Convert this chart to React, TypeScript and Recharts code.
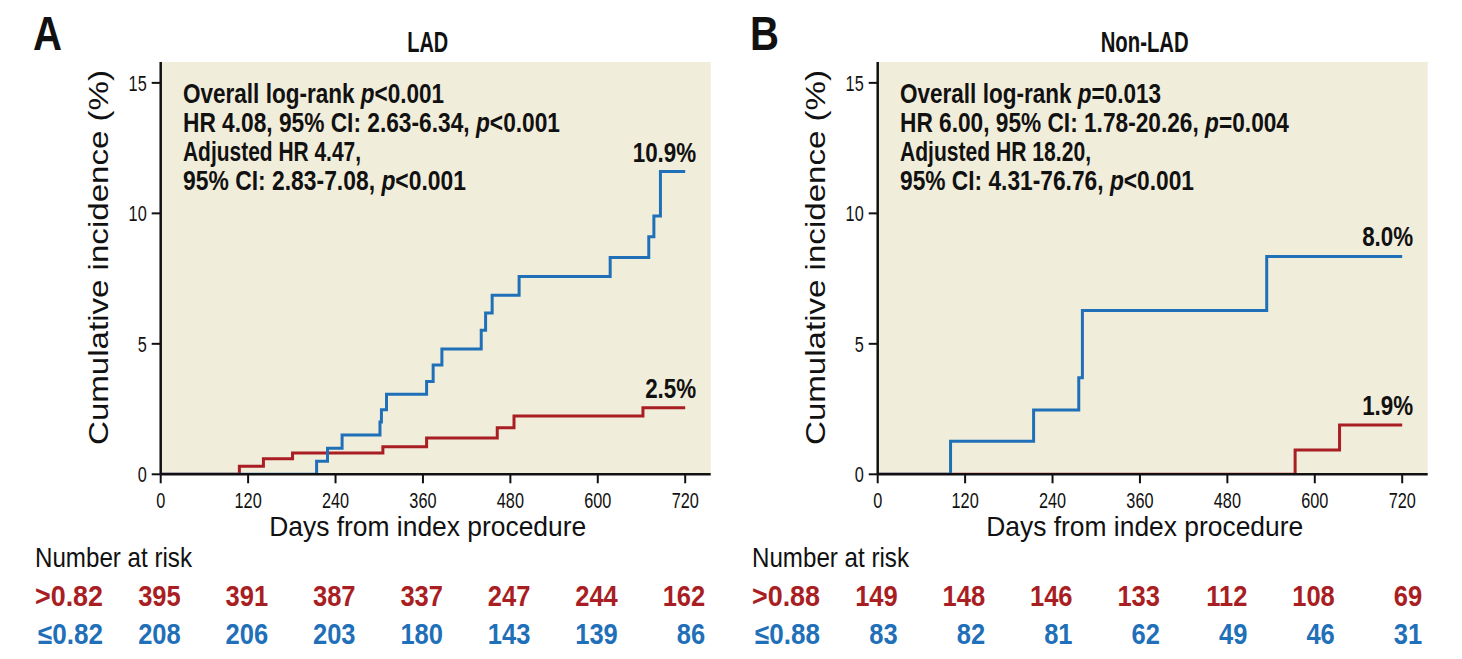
import React, { useLayoutEffect, useRef, useState } from 'react';
import { LineChart, Line, XAxis, YAxis, CartesianGrid } from 'recharts';

// days from index procedure / cumulative incidence (%)
const ladHighDays = [0, 108, 141, 181, 305, 365, 462, 485, 662, 720];
const ladHighVals = [0, 0.31, 0.6, 0.82, 1.06, 1.39, 1.78, 2.23, 2.55, 2.55];
const ladLowDays = [0, 214, 229, 249, 301, 303, 310, 365, 374, 386, 440, 446, 455, 492, 617, 670, 677, 686, 720];
const ladLowVals = [0, 0.5, 1.0, 1.51, 2.0, 2.47, 3.07, 3.56, 4.19, 4.8, 5.52, 6.18, 6.86, 7.58, 8.31, 9.1, 9.9, 11.6, 11.6];

const nonLadHighDays = [0, 573, 634, 720];
const nonLadHighVals = [0, 0.93, 1.89, 1.89];
const nonLadLowDays = [0, 100, 214, 276, 281, 534, 720];
const nonLadLowVals = [0, 1.27, 2.46, 3.7, 6.28, 8.35, 8.35];

const xTicks = [0, 120, 240, 360, 480, 600, 720];
const yTicks = [0, 5, 10, 15];

const ladRiskHigh = [395, 391, 387, 337, 247, 244, 162];
const ladRiskLow = [208, 206, 203, 180, 143, 139, 86];
const nonLadRiskHigh = [149, 148, 146, 133, 112, 108, 69];
const nonLadRiskLow = [83, 82, 81, 62, 49, 46, 31];

const RED = '#a81e23';
const BLUE = '#1f70b8';
const BG = '#f1eddb';
const INK = '#111';
const FONT = "'Liberation Sans', Arial, sans-serif";

const PW = 731;
const PH = 659;
const PL = 160.7;
const PT = 62;
const PWIDTH = 550;
const PB = 474.3;
const XMAX = 755;
const YMAX = 15.8;

const xs = (d: number) => PL + (d / XMAX) * PWIDTH;
const ys = (v: number) => PB - (v / YMAX) * (PB - PT);

const toRows = (days: number[], vals: number[]) => days.map((d, i) => ({ day: d, v: vals[i] }));

// horizontally squeezed text (the figure uses a condensed face)
const Cond = ({ x, y, sx, anchor = 'start', children, ...rest }: any) => (
    <g transform={`translate(${x} ${y}) scale(${sx} 1)`}>
        <text x={0} y={0} textAnchor={anchor} {...rest}>{children}</text>
    </g>
);

type Part = { t: string; it?: boolean };

// one line of the stats box, italic p as its own text, squeezed to a given width
const StatLine = ({ x, y, parts, width }: { x: number; y: number; parts: Part[]; width: number }) => {
    const refs = useRef<(SVGTextElement | null)[]>([]);
    const [lay, setLay] = useState<{ offs: number[]; sx: number }>({ offs: parts.map(() => 0), sx: 0.85 });
    useLayoutEffect(() => {
        let acc = 0;
        const offs: number[] = [];
        parts.forEach((_, i) => {
            offs.push(acc);
            acc += refs.current[i]?.getComputedTextLength() ?? 0;
        });
        setLay({ offs, sx: acc > 0 ? width / acc : 0.85 });
    }, []);
    return (
        <g transform={`translate(${x} ${y}) scale(${lay.sx} 1)`}>
            {parts.map((p, i) => (
                <text
                    key={i}
                    ref={(el) => { refs.current[i] = el; }}
                    x={lay.offs[i]}
                    y={0}
                    fontSize={27}
                    fontWeight="bold"
                    fill={INK}
                    fontStyle={p.it ? 'italic' : 'normal'}
                    style={{ whiteSpace: 'pre' }}
                >
                    {p.t}
                </text>
            ))}
        </g>
    );
};

const XTick = (props: any) => {
    const { x, payload } = props;
    return <Cond x={x} y={PB + 34} sx={0.74} anchor="middle" fontFamily={FONT} fontSize={22} fill={INK}>{payload.value}</Cond>;
};

const YTick = (props: any) => {
    const { x, y, payload } = props;
    return <Cond x={x - 3} y={y + 8} sx={0.74} anchor="end" fontFamily={FONT} fontSize={22} fill={INK}>{payload.value}</Cond>;
};

interface PanelProps {
    left: number;
    letter: string;
    title: string;
    titleWidth: number;
    high: { day: number; v: number }[];
    low: { day: number; v: number }[];
    highLabel: string;
    lowLabel: string;
    stats: Part[][];
    statWidths: number[];
    cut: string;
    riskHigh: number[];
    riskLow: number[];
}

const Panel: React.FC<PanelProps> = ({ left, letter, title, titleWidth, high, low, highLabel, lowLabel, stats, statWidths, cut, riskHigh, riskLow }) => {
    const lastHigh = high[high.length - 1];
    const lastLow = low[low.length - 1];
    return (
        <div style={{ position: 'absolute', left, top: 0, width: PW, height: PH }}>
            <LineChart
                width={PW}
                height={PH}
                margin={{ top: PT, right: PW - PL - PWIDTH, bottom: PH - PB - 60, left: PL - 60 }}
            >
                <CartesianGrid fill={BG} stroke="none" horizontal={false} vertical={false} />
                <XAxis
                    type="number"
                    dataKey="day"
                    domain={[0, XMAX]}
                    ticks={xTicks}
                    allowDataOverflow
                    height={60}
                    tickSize={9}
                    axisLine={{ stroke: INK, strokeWidth: 2.5 }}
                    tickLine={{ stroke: INK, strokeWidth: 2 }}
                    tick={<XTick />}
                />
                <YAxis
                    type="number"
                    domain={[0, YMAX]}
                    ticks={yTicks}
                    allowDataOverflow
                    width={60}
                    tickSize={9}
                    axisLine={{ stroke: INK, strokeWidth: 2.5 }}
                    tickLine={{ stroke: INK, strokeWidth: 2 }}
                    tick={<YTick />}
                />
                <Line data={high} dataKey="v" type="stepAfter" stroke={RED} strokeWidth={3} dot={false} isAnimationActive={false} />
                <Line data={low} dataKey="v" type="stepAfter" stroke={BLUE} strokeWidth={3} dot={false} isAnimationActive={false} />
            </LineChart>
            <svg width={PW} height={PH} style={{ position: 'absolute', left: 0, top: 0, pointerEvents: 'none' }} fontFamily={FONT}>
                <text x={33} y={50} fontSize={49} fontWeight="bold" fill={INK} textLength={29} lengthAdjust="spacingAndGlyphs">{letter}</text>
                <text x={PL + 267 - titleWidth / 2} y={52} fontSize={30} fontWeight="bold" fill={INK} textLength={titleWidth} lengthAdjust="spacingAndGlyphs">{title}</text>
                {stats.map((s, i) => (
                    <StatLine key={i} x={183} y={102.7 + i * 29} parts={s} width={statWidths[i]} />
                ))}
                <Cond x={xs(lastLow.day) + 11} y={ys(lastLow.v) - 10} sx={0.8} anchor="end" fontSize={28} fontWeight="bold" fill={INK}>{lowLabel}</Cond>
                <Cond x={xs(lastHigh.day) + 11} y={ys(lastHigh.v) - 10} sx={0.8} anchor="end" fontSize={28} fontWeight="bold" fill={INK}>{highLabel}</Cond>
                <text x={PL + 267 - 158.5} y={536} fontSize={28} fill={INK} textLength={317} lengthAdjust="spacingAndGlyphs">
                    Days from index procedure
                </text>
                <text transform="translate(108 445) rotate(-90)" fontSize={28} fill={INK} textLength={375} lengthAdjust="spacingAndGlyphs">
                    Cumulative incidence (%)
                </text>
                <text x={35} y={567} fontSize={28} fill={INK} textLength={157} lengthAdjust="spacingAndGlyphs">Number at risk</text>
                <text x={35} y={606} fontSize={29} fontWeight="bold" fill={RED} textLength={68} lengthAdjust="spacingAndGlyphs">{'>' + cut}</text>
                <text x={38} y={644} fontSize={29} fontWeight="bold" fill={BLUE} textLength={65} lengthAdjust="spacingAndGlyphs">{'\u2264' + cut}</text>
                {riskHigh.map((n, i) => (
                    <Cond key={'h' + i} x={xs(xTicks[i]) + 20} y={606} sx={0.88} anchor="end" fontSize={29} fontWeight="bold" fill={RED}>{n}</Cond>
                ))}
                {riskLow.map((n, i) => (
                    <Cond key={'l' + i} x={xs(xTicks[i]) + 20} y={644} sx={0.88} anchor="end" fontSize={29} fontWeight="bold" fill={BLUE}>{n}</Cond>
                ))}
            </svg>
        </div>
    );
};

export default function App() {
    return (
        <div style={{ position: 'absolute', left: 0, top: 0, width: 1462, height: 659, background: '#fff', overflow: 'hidden', fontFamily: FONT }}>
            <Panel
                left={0}
                letter="A"
                title="LAD"
                titleWidth={41}
                high={toRows(ladHighDays, ladHighVals)}
                low={toRows(ladLowDays, ladLowVals)}
                highLabel="2.5%"
                lowLabel="10.9%"
                stats={[
                    [{ t: 'Overall log-rank ' }, { t: 'p', it: true }, { t: '<0.001' }],
                    [{ t: 'HR 4.08, 95% CI: 2.63-6.34, ' }, { t: 'p', it: true }, { t: '<0.001' }],
                    [{ t: 'Adjusted HR 4.47,' }],
                    [{ t: '95% CI: 2.83-7.08, ' }, { t: 'p', it: true }, { t: '<0.001' }],
                ]}
                statWidths={[261, 377, 178, 283]}
                cut="0.82"
                riskHigh={ladRiskHigh}
                riskLow={ladRiskLow}
            />
            <Panel
                left={716.6}
                letter="B"
                title="Non-LAD"
                titleWidth={88}
                high={toRows(nonLadHighDays, nonLadHighVals)}
                low={toRows(nonLadLowDays, nonLadLowVals)}
                highLabel="1.9%"
                lowLabel="8.0%"
                stats={[
                    [{ t: 'Overall log-rank ' }, { t: 'p', it: true }, { t: '=0.013' }],
                    [{ t: 'HR 6.00, 95% CI: 1.78-20.26, ' }, { t: 'p', it: true }, { t: '=0.004' }],
                    [{ t: 'Adjusted HR 18.20,' }],
                    [{ t: '95% CI: 4.31-76.76, ' }, { t: 'p', it: true }, { t: '<0.001' }],
                ]}
                statWidths={[261, 389, 191, 294]}
                cut="0.88"
                riskHigh={nonLadRiskHigh}
                riskLow={nonLadRiskLow}
            />
        </div>
    );
}
